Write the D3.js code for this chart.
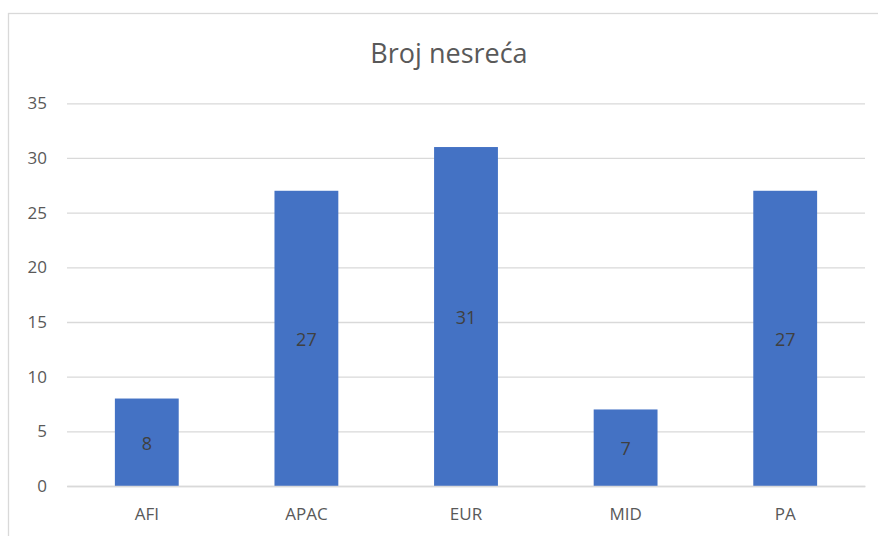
<!DOCTYPE html>
<html><head><meta charset="utf-8">
<script src="https://cdn.jsdelivr.net/npm/d3@7"></script>
<style>body{margin:0;background:#fff;} text{font-family:"Open Sans","Liberation Sans",sans-serif;}</style>
</head><body><svg id="c" width="878" height="536"></svg>
<script>
const categories = ["AFI","APAC","EUR","MID","PA"];
const values = [8,27,31,7,27];
const yTicks = [0,5,10,15,20,25,30,35];
const title = "Broj nesreća";

const svg = d3.select("#c");
const W = 878, H = 536;
svg.append("rect").attr("x",8.5).attr("y",13.5).attr("width",W).attr("height",H).attr("fill","#fff").attr("stroke","#d9d9d9").attr("stroke-width",1.3);

const x = d3.scaleBand().domain(categories).range([67,865]).paddingInner(0.6).paddingOuter(0.3);
const y = d3.scaleLinear().domain([0,35]).range([486,103.3]);

const gy = svg.append("g").attr("transform","translate(67,0)")
  .call(d3.axisLeft(y).tickValues(yTicks).tickSize(-(865-67)));
gy.select(".domain").remove();
gy.selectAll(".tick line").attr("stroke","#d9d9d9").attr("stroke-width",1.3);
gy.selectAll(".tick text").attr("fill","#595959").style("font-size","17px").attr("x",-20);

svg.selectAll("rect.bar").data(values).enter().append("rect").attr("class","bar")
  .attr("x",(d,i)=>x(categories[i])).attr("width",x.bandwidth())
  .attr("y",d=>y(d)).attr("height",d=>y(0)-y(d)).attr("fill","#4472c4");

const gx = svg.append("g").attr("transform","translate(0,486)")
  .call(d3.axisBottom(x).tickSize(0).tickPadding(22));
gx.select(".domain").attr("stroke","#d9d9d9").attr("stroke-width",1.3);
gx.selectAll(".tick text").attr("fill","#595959").style("font-size","17px");

svg.selectAll("text.lbl").data(values).enter().append("text").attr("class","lbl")
  .attr("x",(d,i)=>x(categories[i])+x.bandwidth()/2)
  .attr("y",d=>(y(d)+y(0))/2+1).attr("dy","0.35em").attr("text-anchor","middle")
  .attr("fill","#404040").style("font-size","18px").text(d=>d);

svg.append("text").attr("x",449).attr("y",63).attr("text-anchor","middle")
  .attr("fill","#595959").style("font-size","27px").text(title);
</script></body></html>
